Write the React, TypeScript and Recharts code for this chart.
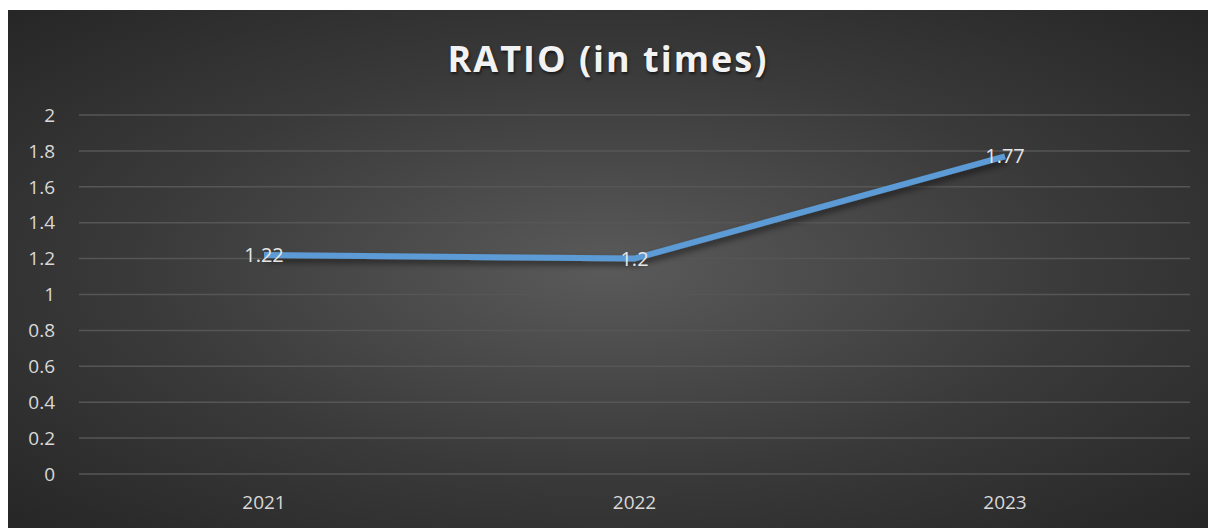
import { LineChart, Line, XAxis, YAxis, CartesianGrid, LabelList } from "recharts";

const years = ["2021", "2022", "2023"];
const ratios = [1.22, 1.2, 1.77];
const yTicks = [0, 0.2, 0.4, 0.6, 0.8, 1, 1.2, 1.4, 1.6, 1.8, 2];

const data = years.map((year, i) => ({ year, ratio: ratios[i] }));

const font = "'Open Sans', 'Liberation Sans', sans-serif";

const App = () => {
  return (
    <div
      style={{
        position: "absolute",
        left: 8,
        top: 10,
        width: 1200,
        height: 518,
        background: "radial-gradient(ellipse at 50% 50%, #5a5a5a 0%, #3a3a3a 55%, #262626 100%)",
        fontFamily: font,
      }}
    >
      <div
        style={{
          position: "absolute",
          top: 24,
          left: 0,
          width: "100%",
          textAlign: "center",
          color: "#f2f2f2",
          fontSize: 36,
          fontWeight: 700,
          letterSpacing: 2,
          textShadow: "1px 2px 3px rgba(0,0,0,0.6)",
        }}
      >
        RATIO (in times)
      </div>
      <LineChart width={1200} height={518} data={data} margin={{ top: 105, right: 18, left: 11, bottom: 14 }}>
        <defs>
          <filter id="lineShadow" x="-10%" y="-50%" width="120%" height="200%">
            <feDropShadow dx="2" dy="4" stdDeviation="3" floodColor="#000" floodOpacity="0.5" />
          </filter>
        </defs>
        <CartesianGrid vertical={false} stroke="#565656" strokeWidth={1.5} />
        <XAxis
          dataKey="year"
          height={40}
          padding={{ left: 185, right: 185 }}
          axisLine={false}
          tickLine={false}
          tickSize={0}
          tickMargin={22}
          tick={{ fill: "#d9d9d9", fontSize: 19, fontFamily: font }}
        />
        <YAxis
          width={60}
          domain={[0, 2]}
          ticks={yTicks}
          axisLine={false}
          tickLine={false}
          tickSize={0}
          tickMargin={24}
          tick={{ fill: "#d9d9d9", fontSize: 19, fontFamily: font }}
        />
        <Line
          type="linear"
          dataKey="ratio"
          stroke="#5b9bd5"
          strokeWidth={6}
          dot={false}
          filter="url(#lineShadow)"
          isAnimationActive={false}
        >
          <LabelList dataKey="ratio" position="center" fill="#e6e6e6" fontSize={20} fontFamily={font} />
        </Line>
      </LineChart>
    </div>
  );
};

export default App;
